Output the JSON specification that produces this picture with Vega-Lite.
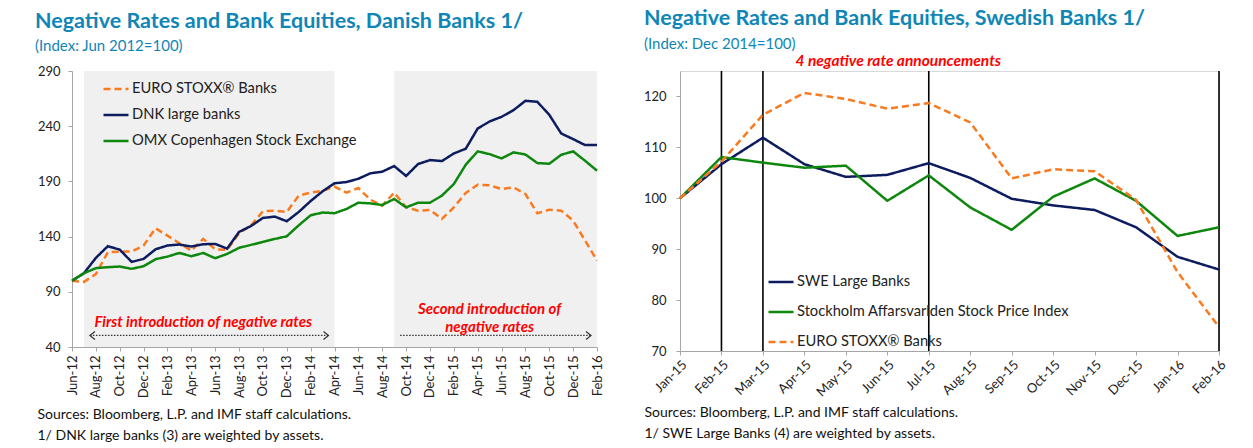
{
  "$schema": "https://vega.github.io/schema/vega-lite/v6.json",
  "background": "white",
  "padding": {"left": 35, "top": 7, "right": 20, "bottom": 5},
  "spacing": 38,
  "resolve": {"scale": {"color": "independent", "strokeDash": "independent", "shape": "independent"}, "legend": {"color": "independent", "strokeDash": "independent"}},
  "config": {
    "font": "Lato",
    "view": {"stroke": null},
    "axis": {"labelFont": "Lato", "labelFontSize": 13, "labelColor": "#222222", "domainColor": "#a6a6a6", "tickColor": "#a6a6a6", "grid": false, "titleFont": "Lato", "titleFontSize": 14, "titleFontWeight": "normal", "titleColor": "#111111"},
    "legend": {"labelFont": "Lato", "labelFontSize": 14.7, "labelColor": "#222222", "labelLimit": 500, "symbolType": "stroke", "symbolSize": 625, "symbolStrokeWidth": 2.5, "labelOffset": 2}
  },
  "hconcat": [
    {
      "width": 525,
      "height": 276,
      "view": {"stroke": null},
      "title": {"text": "Negative Rates and Bank Equities, Danish Banks 1/", "subtitle": "(Index: Jun 2012=100)", "anchor": "start", "frame": "group", "dx": -37, "offset": 11, "font": "Lato", "fontSize": 21.5, "fontWeight": "bold", "color": "#0f86b6", "subtitleColor": "#0f86b6", "subtitleFont": "Lato", "subtitleFontSize": 15, "subtitlePadding": 7},
      "encoding": {
        "x": {"field": "m", "type": "ordinal",
          "scale": {"type": "point", "padding": 0, "domain": ["Jun-12","Jul-12","Aug-12","Sep-12","Oct-12","Nov-12","Dec-12","Jan-13","Feb-13","Mar-13","Apr-13","May-13","Jun-13","Jul-13","Aug-13","Sep-13","Oct-13","Nov-13","Dec-13","Jan-14","Feb-14","Mar-14","Apr-14","May-14","Jun-14","Jul-14","Aug-14","Sep-14","Oct-14","Nov-14","Dec-14","Jan-15","Feb-15","Mar-15","Apr-15","May-15","Jun-15","Jul-15","Aug-15","Sep-15","Oct-15","Nov-15","Dec-15","Jan-16","Feb-16"]},
          "axis": {"values": ["Jun-12","Aug-12","Oct-12","Dec-12","Feb-13","Apr-13","Jun-13","Aug-13","Oct-13","Dec-13","Feb-14","Apr-14","Jun-14","Aug-14","Oct-14","Dec-14","Feb-15","Apr-15","Jun-15","Aug-15","Oct-15","Dec-15","Feb-16"], "labelAngle": -90, "labelPadding": 4, "tickSize": 4,
            "title": ["Sources: Bloomberg,  L.P. and IMF staff calculations.", "1/ DNK large banks (3) are weighted by assets."], "titleAnchor": "start", "titleAlign": "left", "titleX": -35, "titleY": 60, "titleBaseline": "top", "titleLineHeight": 21}}
      },
      "layer": [
        {
          "data": {"values": [{"m": "Jul-12", "m2": "Apr-14"}, {"m": "Sep-14", "m2": "Feb-16"}]},
          "mark": {"type": "rect", "color": "#f0f0f0"},
          "encoding": {"x2": {"field": "m2"}}
        },
        {
          "data": {"values": [
            {"m":"Jun-12","s":"EURO STOXX® Banks","v":100},{"m":"Jul-12","s":"EURO STOXX® Banks","v":99},{"m":"Aug-12","s":"EURO STOXX® Banks","v":106},{"m":"Sep-12","s":"EURO STOXX® Banks","v":125.8},{"m":"Oct-12","s":"EURO STOXX® Banks","v":126.4},{"m":"Nov-12","s":"EURO STOXX® Banks","v":126.4},{"m":"Dec-12","s":"EURO STOXX® Banks","v":131.9},{"m":"Jan-13","s":"EURO STOXX® Banks","v":147.5},{"m":"Feb-13","s":"EURO STOXX® Banks","v":140.9},{"m":"Mar-13","s":"EURO STOXX® Banks","v":134},{"m":"Apr-13","s":"EURO STOXX® Banks","v":127.3},{"m":"May-13","s":"EURO STOXX® Banks","v":137.9},{"m":"Jun-13","s":"EURO STOXX® Banks","v":128.5},{"m":"Jul-13","s":"EURO STOXX® Banks","v":127.9},{"m":"Aug-13","s":"EURO STOXX® Banks","v":143},{"m":"Sep-13","s":"EURO STOXX® Banks","v":150.2},{"m":"Oct-13","s":"EURO STOXX® Banks","v":162.9},{"m":"Nov-13","s":"EURO STOXX® Banks","v":163.5},{"m":"Dec-13","s":"EURO STOXX® Banks","v":162.3},{"m":"Jan-14","s":"EURO STOXX® Banks","v":177.1},{"m":"Feb-14","s":"EURO STOXX® Banks","v":179.8},{"m":"Mar-14","s":"EURO STOXX® Banks","v":181.5},{"m":"Apr-14","s":"EURO STOXX® Banks","v":185.2},{"m":"May-14","s":"EURO STOXX® Banks","v":179.8},{"m":"Jun-14","s":"EURO STOXX® Banks","v":184},{"m":"Jul-14","s":"EURO STOXX® Banks","v":173.5},{"m":"Aug-14","s":"EURO STOXX® Banks","v":168},{"m":"Sep-14","s":"EURO STOXX® Banks","v":179.8},{"m":"Oct-14","s":"EURO STOXX® Banks","v":166.5},{"m":"Nov-14","s":"EURO STOXX® Banks","v":163.5},{"m":"Dec-14","s":"EURO STOXX® Banks","v":164.1},{"m":"Jan-15","s":"EURO STOXX® Banks","v":156},{"m":"Feb-15","s":"EURO STOXX® Banks","v":166.5},{"m":"Mar-15","s":"EURO STOXX® Banks","v":179.5},{"m":"Apr-15","s":"EURO STOXX® Banks","v":187},{"m":"May-15","s":"EURO STOXX® Banks","v":186.4},{"m":"Jun-15","s":"EURO STOXX® Banks","v":183.1},{"m":"Jul-15","s":"EURO STOXX® Banks","v":184.6},{"m":"Aug-15","s":"EURO STOXX® Banks","v":178.6},{"m":"Sep-15","s":"EURO STOXX® Banks","v":161.1},{"m":"Oct-15","s":"EURO STOXX® Banks","v":164.4},{"m":"Nov-15","s":"EURO STOXX® Banks","v":163.5},{"m":"Dec-15","s":"EURO STOXX® Banks","v":154.5},{"m":"Jan-16","s":"EURO STOXX® Banks","v":136.4},{"m":"Feb-16","s":"EURO STOXX® Banks","v":118.3},
            {"m":"Jun-12","s":"DNK large banks","v":100},{"m":"Jul-12","s":"DNK large banks","v":106.8},{"m":"Aug-12","s":"DNK large banks","v":120.7},{"m":"Sep-12","s":"DNK large banks","v":131.3},{"m":"Oct-12","s":"DNK large banks","v":128.2},{"m":"Nov-12","s":"DNK large banks","v":117.1},{"m":"Dec-12","s":"DNK large banks","v":119.8},{"m":"Jan-13","s":"DNK large banks","v":128.5},{"m":"Feb-13","s":"DNK large banks","v":131.9},{"m":"Mar-13","s":"DNK large banks","v":132.8},{"m":"Apr-13","s":"DNK large banks","v":131},{"m":"May-13","s":"DNK large banks","v":133.1},{"m":"Jun-13","s":"DNK large banks","v":133.4},{"m":"Jul-13","s":"DNK large banks","v":129.1},{"m":"Aug-13","s":"DNK large banks","v":144.2},{"m":"Sep-13","s":"DNK large banks","v":149.6},{"m":"Oct-13","s":"DNK large banks","v":156.9},{"m":"Nov-13","s":"DNK large banks","v":158.1},{"m":"Dec-13","s":"DNK large banks","v":153.9},{"m":"Jan-14","s":"DNK large banks","v":162.3},{"m":"Feb-14","s":"DNK large banks","v":172.2},{"m":"Mar-14","s":"DNK large banks","v":181},{"m":"Apr-14","s":"DNK large banks","v":188.3},{"m":"May-14","s":"DNK large banks","v":189.4},{"m":"Jun-14","s":"DNK large banks","v":192.4},{"m":"Jul-14","s":"DNK large banks","v":197.3},{"m":"Aug-14","s":"DNK large banks","v":198.8},{"m":"Sep-14","s":"DNK large banks","v":203.9},{"m":"Oct-14","s":"DNK large banks","v":194.9},{"m":"Nov-14","s":"DNK large banks","v":205.7},{"m":"Dec-14","s":"DNK large banks","v":209.3},{"m":"Jan-15","s":"DNK large banks","v":208.4},{"m":"Feb-15","s":"DNK large banks","v":215.3},{"m":"Mar-15","s":"DNK large banks","v":219.6},{"m":"Apr-15","s":"DNK large banks","v":237.9},{"m":"May-15","s":"DNK large banks","v":244.3},{"m":"Jun-15","s":"DNK large banks","v":248.5},{"m":"Jul-15","s":"DNK large banks","v":254.5},{"m":"Aug-15","s":"DNK large banks","v":263},{"m":"Sep-15","s":"DNK large banks","v":262.1},{"m":"Oct-15","s":"DNK large banks","v":250.3},{"m":"Nov-15","s":"DNK large banks","v":233.4},{"m":"Dec-15","s":"DNK large banks","v":228.3},{"m":"Jan-16","s":"DNK large banks","v":222.9},{"m":"Feb-16","s":"DNK large banks","v":222.9},
            {"m":"Jun-12","s":"OMX Copenhagen Stock Exchange","v":100},{"m":"Jul-12","s":"OMX Copenhagen Stock Exchange","v":106.8},{"m":"Aug-12","s":"OMX Copenhagen Stock Exchange","v":111.4},{"m":"Sep-12","s":"OMX Copenhagen Stock Exchange","v":112.3},{"m":"Oct-12","s":"OMX Copenhagen Stock Exchange","v":112.9},{"m":"Nov-12","s":"OMX Copenhagen Stock Exchange","v":110.8},{"m":"Dec-12","s":"OMX Copenhagen Stock Exchange","v":113.2},{"m":"Jan-13","s":"OMX Copenhagen Stock Exchange","v":119.5},{"m":"Feb-13","s":"OMX Copenhagen Stock Exchange","v":121.9},{"m":"Mar-13","s":"OMX Copenhagen Stock Exchange","v":125.2},{"m":"Apr-13","s":"OMX Copenhagen Stock Exchange","v":122.2},{"m":"May-13","s":"OMX Copenhagen Stock Exchange","v":125.2},{"m":"Jun-13","s":"OMX Copenhagen Stock Exchange","v":120.4},{"m":"Jul-13","s":"OMX Copenhagen Stock Exchange","v":124.3},{"m":"Aug-13","s":"OMX Copenhagen Stock Exchange","v":129.8},{"m":"Sep-13","s":"OMX Copenhagen Stock Exchange","v":132.5},{"m":"Oct-13","s":"OMX Copenhagen Stock Exchange","v":135.2},{"m":"Nov-13","s":"OMX Copenhagen Stock Exchange","v":137.9},{"m":"Dec-13","s":"OMX Copenhagen Stock Exchange","v":140.3},{"m":"Jan-14","s":"OMX Copenhagen Stock Exchange","v":150.2},{"m":"Feb-14","s":"OMX Copenhagen Stock Exchange","v":159.3},{"m":"Mar-14","s":"OMX Copenhagen Stock Exchange","v":161.8},{"m":"Apr-14","s":"OMX Copenhagen Stock Exchange","v":161.2},{"m":"May-14","s":"OMX Copenhagen Stock Exchange","v":165},{"m":"Jun-14","s":"OMX Copenhagen Stock Exchange","v":170.7},{"m":"Jul-14","s":"OMX Copenhagen Stock Exchange","v":170.1},{"m":"Aug-14","s":"OMX Copenhagen Stock Exchange","v":168.6},{"m":"Sep-14","s":"OMX Copenhagen Stock Exchange","v":174.1},{"m":"Oct-14","s":"OMX Copenhagen Stock Exchange","v":166.5},{"m":"Nov-14","s":"OMX Copenhagen Stock Exchange","v":170.7},{"m":"Dec-14","s":"OMX Copenhagen Stock Exchange","v":170.7},{"m":"Jan-15","s":"OMX Copenhagen Stock Exchange","v":177.1},{"m":"Feb-15","s":"OMX Copenhagen Stock Exchange","v":187.6},{"m":"Mar-15","s":"OMX Copenhagen Stock Exchange","v":205.1},{"m":"Apr-15","s":"OMX Copenhagen Stock Exchange","v":217.2},{"m":"May-15","s":"OMX Copenhagen Stock Exchange","v":214.7},{"m":"Jun-15","s":"OMX Copenhagen Stock Exchange","v":210.8},{"m":"Jul-15","s":"OMX Copenhagen Stock Exchange","v":216.3},{"m":"Aug-15","s":"OMX Copenhagen Stock Exchange","v":214.4},{"m":"Sep-15","s":"OMX Copenhagen Stock Exchange","v":206.6},{"m":"Oct-15","s":"OMX Copenhagen Stock Exchange","v":206},{"m":"Nov-15","s":"OMX Copenhagen Stock Exchange","v":214.1},{"m":"Dec-15","s":"OMX Copenhagen Stock Exchange","v":217.2},{"m":"Jan-16","s":"OMX Copenhagen Stock Exchange","v":208.7},{"m":"Feb-16","s":"OMX Copenhagen Stock Exchange","v":199.7}
          ]},
          "mark": {"type": "line", "strokeWidth": 2.5},
          "encoding": {
            "y": {"field": "v", "type": "quantitative", "scale": {"domain": [40, 290], "nice": false}, "axis": {"values": [40, 90, 140, 190, 240, 290], "title": null, "tickSize": 4, "labelPadding": 8}},
            "color": {"field": "s", "type": "nominal", "scale": {"domain": ["EURO STOXX® Banks", "DNK large banks", "OMX Copenhagen Stock Exchange"], "range": ["#f97a1f", "#0d1c5e", "#0e870e"]}, "legend": {"title": null, "orient": "none", "legendX": 30, "legendY": 4, "rowPadding": 5}},
            "strokeDash": {"field": "s", "type": "nominal", "scale": {"domain": ["EURO STOXX® Banks", "DNK large banks", "OMX Copenhagen Stock Exchange"], "range": [[7, 4], [1, 0], [1, 0]]}, "legend": {"title": null, "orient": "none", "legendX": 30, "legendY": 4, "rowPadding": 5}}
          }
        },
        {
          "data": {"values": [{"m": "Jul-12", "m2": "Apr-14", "v": 50.5}, {"m": "Sep-14", "m2": "Feb-16", "v": 50.5}]},
          "mark": {"type": "rule", "color": "#333333", "strokeWidth": 1.2, "strokeDash": [1.5, 1.5], "xOffset": 6, "x2Offset": -6},
          "encoding": {"x2": {"field": "m2"}, "y": {"field": "v", "type": "quantitative", "axis": {"values": [40, 90, 140, 190, 240, 290], "title": null, "tickSize": 4, "labelPadding": 8}}}
        },
        {
          "data": {"values": [{"m": "Jul-12", "d": "l", "v": 50.5}, {"m": "Apr-14", "d": "r", "v": 50.5}, {"m": "Feb-16", "d": "r", "v": 50.5}]},
          "mark": {"type": "point", "filled": false, "color": "#333333", "strokeWidth": 1.2, "size": 100, "opacity": 1},
          "encoding": {
            "y": {"field": "v", "type": "quantitative", "axis": {"values": [40, 90, 140, 190, 240, 290], "title": null, "tickSize": 4, "labelPadding": 8}},
            "shape": {"field": "d", "type": "nominal", "scale": {"domain": ["l", "r"], "range": ["M2.2,-0.8L1.2,0L2.2,0.8", "M-2.2,-0.8L-1.2,0L-2.2,0.8"]}, "legend": null}
          }
        },
        {
          "data": {"values": [{"m": "May-13", "v": 63, "t": "First introduction of negative rates"}, {"m": "May-15", "v": 74.3, "t": "Second introduction of"}, {"m": "May-15", "v": 58, "t": "negative rates"}]},
          "mark": {"type": "text", "font": "Lato", "fontSize": 15, "fontWeight": "bold", "fontStyle": "italic", "color": "#ff0000"},
          "encoding": {"y": {"field": "v", "type": "quantitative", "axis": {"values": [40, 90, 140, 190, 240, 290], "title": null, "tickSize": 4, "labelPadding": 8}}, "text": {"field": "t"}}
        }
      ]
    },
    {
      "width": 539,
      "height": 280,
      "view": {"stroke": "#d9d9d9"},
      "title": {"text": "Negative Rates and Bank Equities, Swedish Banks 1/", "subtitle": "(Index: Dec 2014=100)", "anchor": "start", "frame": "group", "dx": -36, "offset": 2, "font": "Lato", "fontSize": 21.5, "fontWeight": "bold", "color": "#0f86b6", "subtitleColor": "#0f86b6", "subtitleFont": "Lato", "subtitleFontSize": 15, "subtitlePadding": 7},
      "encoding": {
        "x": {"field": "m", "type": "ordinal",
          "scale": {"type": "point", "padding": 0, "domain": ["Jan-15","Feb-15","Mar-15","Apr-15","May-15","Jun-15","Jul-15","Aug-15","Sep-15","Oct-15","Nov-15","Dec-15","Jan-16","Feb-16"]},
          "axis": {"labelAngle": -45, "labelPadding": 3, "tickSize": 4,
            "title": ["Sources: Bloomberg,  L.P. and IMF staff calculations.", "1/ SWE Large Banks (4) are weighted by assets."], "titleAnchor": "start", "titleAlign": "left", "titleX": -36, "titleY": 54, "titleBaseline": "top", "titleLineHeight": 21}}
      },
      "layer": [
        {
          "data": {"values": [{"m": "Feb-15"}, {"m": "Mar-15"}, {"m": "Jul-15"}, {"m": "Feb-16"}]},
          "mark": {"type": "rule", "color": "#000000", "strokeWidth": 1.6},
          "encoding": {}
        },
        {
          "data": {"values": [
            {"m":"Jan-15","s":"SWE Large Banks","v":100},{"m":"Feb-15","s":"SWE Large Banks","v":106.7},{"m":"Mar-15","s":"SWE Large Banks","v":111.9},{"m":"Apr-15","s":"SWE Large Banks","v":106.7},{"m":"May-15","s":"SWE Large Banks","v":104.2},{"m":"Jun-15","s":"SWE Large Banks","v":104.6},{"m":"Jul-15","s":"SWE Large Banks","v":106.9},{"m":"Aug-15","s":"SWE Large Banks","v":104},{"m":"Sep-15","s":"SWE Large Banks","v":99.9},{"m":"Oct-15","s":"SWE Large Banks","v":98.6},{"m":"Nov-15","s":"SWE Large Banks","v":97.7},{"m":"Dec-15","s":"SWE Large Banks","v":94.3},{"m":"Jan-16","s":"SWE Large Banks","v":88.5},{"m":"Feb-16","s":"SWE Large Banks","v":86},
            {"m":"Jan-15","s":"Stockholm Affarsvarlden Stock Price Index","v":100},{"m":"Feb-15","s":"Stockholm Affarsvarlden Stock Price Index","v":108.1},{"m":"Mar-15","s":"Stockholm Affarsvarlden Stock Price Index","v":107},{"m":"Apr-15","s":"Stockholm Affarsvarlden Stock Price Index","v":106},{"m":"May-15","s":"Stockholm Affarsvarlden Stock Price Index","v":106.4},{"m":"Jun-15","s":"Stockholm Affarsvarlden Stock Price Index","v":99.5},{"m":"Jul-15","s":"Stockholm Affarsvarlden Stock Price Index","v":104.5},{"m":"Aug-15","s":"Stockholm Affarsvarlden Stock Price Index","v":98.2},{"m":"Sep-15","s":"Stockholm Affarsvarlden Stock Price Index","v":93.8},{"m":"Oct-15","s":"Stockholm Affarsvarlden Stock Price Index","v":100.3},{"m":"Nov-15","s":"Stockholm Affarsvarlden Stock Price Index","v":103.9},{"m":"Dec-15","s":"Stockholm Affarsvarlden Stock Price Index","v":99.5},{"m":"Jan-16","s":"Stockholm Affarsvarlden Stock Price Index","v":92.6},{"m":"Feb-16","s":"Stockholm Affarsvarlden Stock Price Index","v":94.3},
            {"m":"Jan-15","s":"EURO STOXX® Banks","v":100},{"m":"Feb-15","s":"EURO STOXX® Banks","v":107.2},{"m":"Mar-15","s":"EURO STOXX® Banks","v":116.4},{"m":"Apr-15","s":"EURO STOXX® Banks","v":120.7},{"m":"May-15","s":"EURO STOXX® Banks","v":119.5},{"m":"Jun-15","s":"EURO STOXX® Banks","v":117.6},{"m":"Jul-15","s":"EURO STOXX® Banks","v":118.7},{"m":"Aug-15","s":"EURO STOXX® Banks","v":114.9},{"m":"Sep-15","s":"EURO STOXX® Banks","v":103.9},{"m":"Oct-15","s":"EURO STOXX® Banks","v":105.7},{"m":"Nov-15","s":"EURO STOXX® Banks","v":105.3},{"m":"Dec-15","s":"EURO STOXX® Banks","v":99.7},{"m":"Jan-16","s":"EURO STOXX® Banks","v":85.5},{"m":"Feb-16","s":"EURO STOXX® Banks","v":74.7}
          ]},
          "mark": {"type": "line", "strokeWidth": 2.5},
          "encoding": {
            "y": {"field": "v", "type": "quantitative", "scale": {"domain": [70, 125], "nice": false}, "axis": {"values": [70, 80, 90, 100, 110, 120], "title": null, "tickSize": 4, "labelPadding": 10}},
            "color": {"field": "s", "type": "nominal", "scale": {"domain": ["SWE Large Banks", "Stockholm Affarsvarlden Stock Price Index", "EURO STOXX® Banks"], "range": ["#0d1c5e", "#0e870e", "#f97a1f"]}, "legend": {"title": null, "orient": "none", "legendX": 87, "legendY": 197, "rowPadding": 9}},
            "strokeDash": {"field": "s", "type": "nominal", "scale": {"domain": ["SWE Large Banks", "Stockholm Affarsvarlden Stock Price Index", "EURO STOXX® Banks"], "range": [[1, 0], [1, 0], [7, 4]]}, "legend": {"title": null, "orient": "none", "legendX": 87, "legendY": 197, "rowPadding": 9}}
          }
        },
        {
          "data": {"values": [{"m": "Jun-15", "v": 127, "t": "4 negative rate announcements"}]},
          "mark": {"type": "text", "font": "Lato", "fontSize": 15.5, "fontWeight": "bold", "fontStyle": "italic", "color": "#ff0000", "dx": 11},
          "encoding": {"y": {"field": "v", "type": "quantitative", "axis": {"values": [70, 80, 90, 100, 110, 120], "title": null, "tickSize": 4, "labelPadding": 10}}, "text": {"field": "t"}}
        }
      ]
    }
  ]
}
